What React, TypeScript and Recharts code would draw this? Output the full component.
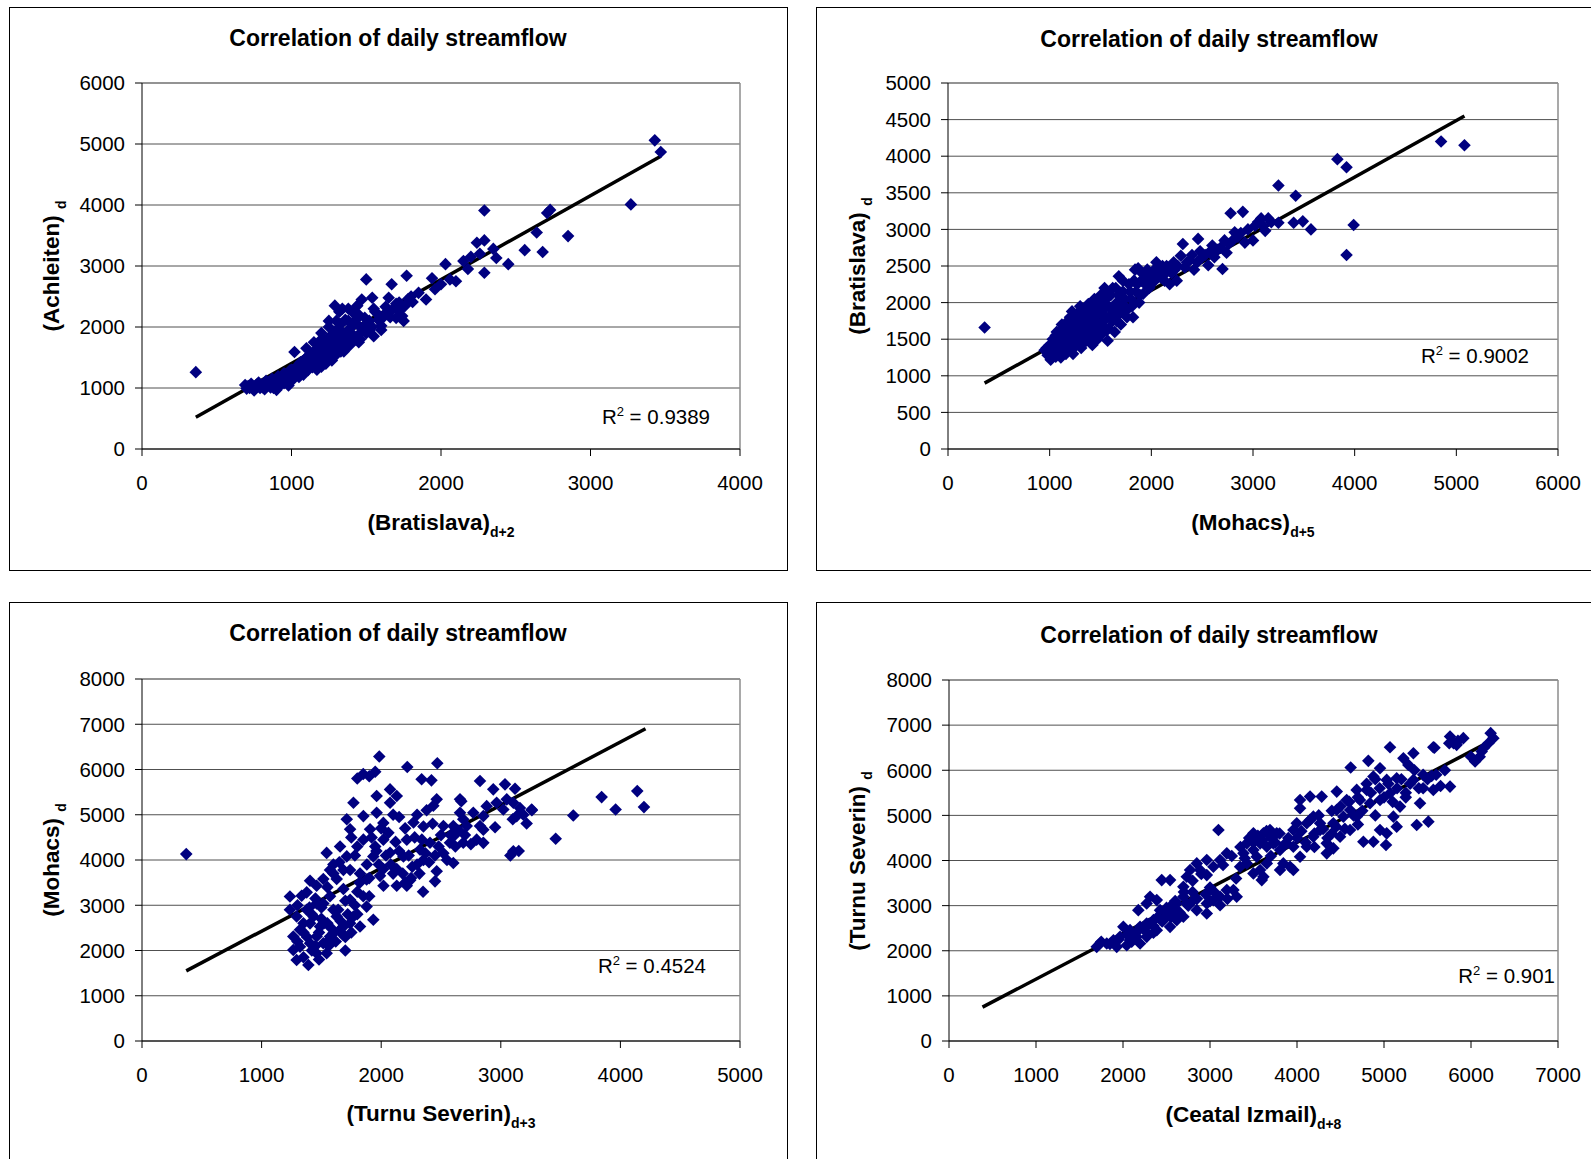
import React from 'react';
import { ScatterChart, Scatter, XAxis, YAxis, CartesianGrid, ReferenceLine } from 'recharts';

type Pair = [number, number];

const FONT = '"Liberation Sans", Arial, Helvetica, sans-serif';
const TITLE = 'Correlation of daily streamflow';

// ---------- Panel 1: Bratislava(d+2) vs Achleiten(d) ----------
const p1XTicks = [0, 1000, 2000, 3000, 4000];
const p1YTicks = [0, 1000, 2000, 3000, 4000, 5000, 6000];
const p1Trend: Pair[] = [[360, 520], [3470, 4800]];
const p1R2 = '0.9389';
const p1Points: Pair[] = [
  [360, 1260],
  [690, 1050], [700, 990], [710, 1030], [730, 1070], [740, 1000], [750, 960], [760, 1040], [780, 1090], [790, 1000],
  [800, 1050], [820, 980], [830, 1120], [840, 1060], [860, 1010], [870, 1150], [880, 1090], [890, 1030], [900, 970],
  [910, 1190], [920, 1120], [930, 1060], [950, 1240], [960, 1170], [970, 1100], [980, 1040], [990, 1290], [1000, 1210],
  [1010, 1140], [1020, 1590], [1030, 1340], [1040, 1260], [1050, 1180], [1060, 1420], [1070, 1300], [1080, 1220],
  [1090, 1470], [1100, 1380], [1110, 1290], [1120, 1530], [1130, 1430], [1140, 1340], [1150, 1590], [1160, 1490],
  [1170, 1390], [1180, 1660], [1190, 1550], [1200, 1440], [1210, 1720], [1220, 1600], [1230, 1500], [1240, 1800],
  [1250, 1670], [1260, 1560], [1270, 1870], [1280, 1730], [1290, 1610], [1300, 1950], [1310, 1800], [1320, 1670],
  [1330, 2050], [1340, 1860], [1350, 1720], [1360, 2120], [1370, 1920], [1380, 1780], [1290, 2350], [1400, 2000],
  [1410, 2240], [1420, 1850], [1430, 2120], [1450, 2020], [1460, 1900], [1470, 2450], [1490, 2150], [1500, 2780],
  [1510, 2060], [1520, 1940], [1540, 2480], [1560, 2250], [1580, 2120], [1600, 2020], [1630, 2330], [1650, 2480],
  [1660, 2160], [1670, 2700], [1700, 2380], [1720, 2260], [1740, 2180], [1770, 2840], [1780, 2460], [1810, 2410],
  [1250, 2100], [1320, 2250], [1380, 2300], [1440, 2350], [1250, 1480], [1350, 1600], [1450, 1750], [1550, 1850],
  [1600, 1950], [1700, 2150], [1750, 2100], [1200, 1900], [1150, 1750], [1100, 1650],
  [720, 1000], [770, 1060], [810, 1010], [850, 1100], [880, 1000], [900, 1120], [940, 1150], [950, 1080],
  [1000, 1300], [1010, 1250], [1050, 1350], [1060, 1220], [1090, 1300], [1100, 1500], [1120, 1350], [1140, 1450],
  [1160, 1620], [1170, 1300], [1190, 1700], [1200, 1350], [1220, 1760], [1230, 1400], [1240, 1550], [1260, 1850],
  [1270, 1450], [1290, 1750], [1300, 1550], [1320, 1950], [1330, 1600], [1350, 1900], [1360, 1650], [1380, 2100],
  [1390, 1700], [1400, 1850], [1420, 2050], [1430, 1800], [1450, 2200], [1460, 1800], [1480, 2000], [1500, 1900],
  [1520, 2100], [1540, 2000], [1550, 2300], [1580, 2200], [1610, 2150], [1640, 2250], [1680, 2300], [1720, 2400],
  [1760, 2350], [1800, 2500], [1300, 2100], [1340, 2300], [1250, 2000], [1200, 1800],
  [1850, 2560], [1900, 2450], [1940, 2800], [1960, 2620], [2000, 2700], [2030, 3030], [2060, 2780], [2100, 2750],
  [2150, 3080], [2180, 2950], [2200, 3150], [2240, 3380], [2260, 3200], [2290, 3420], [2290, 2890], [2290, 3910],
  [2350, 3280], [2370, 3130], [2450, 3030], [2560, 3260], [2640, 3550], [2680, 3230], [2710, 3870], [2730, 3920],
  [2850, 3490], [3270, 4010], [3430, 5060], [3470, 4870],
];

// ---------- Panel 2: Mohacs(d+5) vs Bratislava(d) ----------
const p2XTicks = [0, 1000, 2000, 3000, 4000, 5000, 6000];
const p2YTicks = [0, 500, 1000, 1500, 2000, 2500, 3000, 3500, 4000, 4500, 5000];
const p2Trend: Pair[] = [[360, 900], [5080, 4550]];
const p2R2 = '0.9002';
const p2Points: Pair[] = [
  [360, 1660],
  [950, 1350], [980, 1280], [1000, 1420], [1010, 1220], [1030, 1500], [1040, 1330], [1060, 1260], [1070, 1600],
  [1080, 1450], [1100, 1350], [1110, 1250], [1120, 1700], [1130, 1550], [1150, 1420], [1160, 1300], [1180, 1750],
  [1190, 1620], [1200, 1500], [1210, 1380], [1220, 1880], [1230, 1300], [1240, 1700], [1250, 1580], [1260, 1460],
  [1280, 1800], [1290, 1650], [1300, 1520], [1310, 1380], [1330, 1900], [1340, 1750], [1350, 1600], [1360, 1480],
  [1380, 1980], [1390, 1820], [1400, 1680], [1410, 1550], [1420, 1420], [1440, 1900], [1450, 1760], [1460, 1620],
  [1470, 1500], [1490, 2020], [1500, 1850], [1510, 1700], [1520, 1580], [1540, 2200], [1550, 1950], [1560, 1800],
  [1570, 1480], [1580, 1650], [1600, 2100], [1610, 1900], [1620, 1750], [1640, 1600], [1660, 2000], [1680, 2360],
  [1690, 1850], [1700, 1700], [1720, 2150], [1740, 1950], [1760, 1800], [1780, 2250], [1800, 2050], [1820, 1800],
  [1840, 2450], [1850, 2150], [1870, 2470], [1880, 2000], [1900, 2300], [1920, 2120], [1950, 2350], [1980, 2200],
  [1050, 1400], [1150, 1500], [1250, 1650], [1350, 1800], [1450, 1950], [1550, 2050], [1650, 2200], [1000, 1300],
  [1100, 1450], [1200, 1600], [1300, 1700], [1400, 1850], [1500, 1980], [1600, 1820], [1700, 1950],
  [970, 1380], [990, 1340], [1020, 1300], [1040, 1450], [1060, 1550], [1080, 1320], [1090, 1500], [1110, 1620],
  [1130, 1400], [1140, 1680], [1170, 1560], [1180, 1400], [1200, 1800], [1220, 1550], [1230, 1720], [1250, 1400],
  [1270, 1850], [1280, 1550], [1300, 1950], [1320, 1650], [1330, 1450], [1340, 1880], [1370, 1700], [1380, 1550],
  [1400, 1950], [1410, 1780], [1430, 1650], [1440, 2050], [1460, 1850], [1480, 1700], [1500, 2100], [1520, 1900],
  [1530, 1750], [1550, 2150], [1560, 1620], [1580, 1950], [1600, 1800], [1620, 2200], [1640, 1950], [1660, 1750],
  [1680, 2100], [1700, 1900], [1720, 2300], [1740, 2050], [1760, 1900], [1790, 2150], [1810, 1950], [1830, 2300],
  [1860, 2250], [1890, 2100], [1910, 2400], [1940, 2250], [1960, 2450], [1990, 2300], [2030, 2450], [2060, 2380],
  [2090, 2350], [2110, 2500], [2140, 2400], [2170, 2450], [2230, 2450], [2260, 2500], [2350, 2550], [2400, 2650],
  [2450, 2550], [2530, 2650], [2580, 2700], [2620, 2620], [2680, 2750], [2760, 2800], [2800, 2850], [2880, 2950],
  [2950, 3000], [3020, 3050], [3100, 3050], [3180, 3100],
  [2000, 2400], [2020, 2280], [2050, 2550], [2070, 2350], [2100, 2450], [2130, 2300], [2150, 2500], [2180, 2250],
  [2200, 2400], [2220, 2550], [2250, 2300], [2290, 2640], [2310, 2800], [2330, 2480], [2380, 2580], [2420, 2450],
  [2460, 2870], [2480, 2700], [2500, 2620], [2560, 2510], [2600, 2780], [2650, 2720], [2700, 2460], [2720, 2850],
  [2740, 2680], [2780, 3220], [2820, 2960], [2850, 2900], [2900, 3240], [2920, 2820], [3000, 2850], [3050, 3100],
  [3080, 3150], [3120, 2980], [3150, 3150], [3250, 3090], [3250, 3600], [3420, 3460], [3400, 3090], [3490, 3110],
  [3570, 3000], [3830, 3960], [3920, 3850], [3920, 2650], [3990, 3060], [4850, 4200], [5080, 4150],
];

// ---------- Panel 3: Turnu Severin(d+3) vs Mohacs(d) ----------
const p3XTicks = [0, 1000, 2000, 3000, 4000, 5000];
const p3YTicks = [0, 1000, 2000, 3000, 4000, 5000, 6000, 7000, 8000];
const p3Trend: Pair[] = [[370, 1550], [4210, 6900]];
const p3R2 = '0.4524';
const p3Points: Pair[] = [
  [370, 4130],
  [1984, 6286], [2469, 6137], [2218, 6055], [1800, 5800], [1850, 5900], [1900, 5850], [1950, 5950], [2338, 5783],
  [2420, 5760], [2826, 5745], [2937, 5561], [3035, 5672], [3119, 5576], [3843, 5390], [4141, 5523], [4197, 5169],
  [3960, 5117], [3606, 4984], [3459, 4468], [3258, 5117], [3216, 4807], [2952, 4725], [2854, 4379], [3105, 4193],
  [3080, 4100], [2603, 3935], [2450, 3528], [2450, 4100], [2659, 5044], [2659, 5340], [2464, 5340], [2436, 5200],
  [2686, 4900], [2770, 5044], [2603, 4750], [2380, 5100], [2353, 4740], [2270, 4830], [2214, 4450], [2325, 4230],
  [2186, 4080], [2130, 3800], [2242, 3550], [2214, 3430], [2019, 3430], [1990, 3650], [1934, 2678], [1878, 2970],
  [1823, 3700], [1740, 3780], [1712, 4080], [1934, 4080], [2018, 4450], [1851, 4450], [1740, 4680], [1712, 4900],
  [1851, 4970], [1962, 5044], [1768, 5265], [2074, 5265], [1962, 5414], [2074, 5560], [2130, 5414], [1907, 4680],
  [2018, 4820], [1544, 4157], [1656, 4300], [1572, 3780], [1460, 3430], [1516, 3580], [1628, 3580], [1684, 3360],
  [1405, 3540], [1377, 3285], [1335, 3210], [1237, 3195], [1237, 2900], [1293, 2750], [1377, 2900], [1460, 3040],
  [1572, 3200], [1600, 2900], [1740, 3120], [1768, 2750], [1823, 2530], [1684, 2530], [1600, 2380], [1488, 2530],
  [1405, 2600], [1321, 2460], [1265, 2310], [1265, 2010], [1321, 2085], [1293, 1790], [1391, 1681], [1460, 1940],
  [1516, 2160], [1572, 2310], [1656, 2460], [1740, 2600], [1460, 2310], [1405, 2160], [1544, 1940], [1433, 2750],
  [1628, 2750], [1516, 3040], [1684, 3780], [1878, 3570], [2130, 3430], [2018, 3800], [2074, 4160], [2353, 4000],
  [2464, 3750], [2408, 4380], [2575, 4380], [2520, 4750], [2715, 4750], [2854, 4970], [3021, 5115], [3105, 5265],
  [3133, 4970], [3050, 5340], [2965, 5265], [2882, 5190], [2826, 4750], [2798, 4450], [2686, 4380], [2603, 4520],
  [2854, 4670], [3189, 5000], [3260, 5100], [3160, 5150], [3100, 4900], [3150, 4200], [2670, 5300], [1350, 2400],
  [1420, 2000], [1500, 2700], [1550, 2200], [1700, 2300], [1800, 3300], [1900, 3200], [2100, 3700], [2300, 3900],
  [2200, 4700], [2150, 4950], [1800, 4300], [1600, 3900], [1950, 4300], [2250, 3600], [2350, 3300], [2500, 4550],
  [1300, 2200], [1350, 2600], [1380, 2300], [1420, 2800], [1450, 2100], [1480, 2400], [1500, 2950], [1520, 2600],
  [1560, 2100], [1580, 2500], [1620, 2200], [1640, 2900], [1660, 2650], [1680, 2350], [1700, 3100], [1720, 2800],
  [1750, 2400], [1780, 3000], [1800, 2800], [1820, 3500], [1850, 3200], [1880, 3900], [1900, 3600], [1920, 4500],
  [1960, 4200], [1980, 3900], [2000, 4700], [2040, 4100], [2060, 4600], [2080, 3900], [2100, 5000], [2120, 4400],
  [2150, 4200], [2180, 3700], [2200, 3500], [2230, 4100], [2260, 3850], [2280, 4500], [2300, 5000], [2320, 3700],
  [2340, 4450], [2370, 4150], [2400, 3950], [2430, 4800], [2480, 4300], [2520, 4150], [2550, 4000], [2580, 4550],
  [2620, 4300], [2650, 4650], [2700, 4550], [2750, 4350], [1750, 4500], [1780, 4100], [1650, 3950], [1600, 3700],
  [1550, 3400], [1450, 3150], [1400, 2950], [1300, 3000], [1350, 1850], [1480, 1800], [1550, 2600], [1700, 2000],
];

// ---------- Panel 4: Ceatal Izmail(d+8) vs Turnu Severin(d) ----------
const p4XTicks = [0, 1000, 2000, 3000, 4000, 5000, 6000, 7000];
const p4YTicks = [0, 1000, 2000, 3000, 4000, 5000, 6000, 7000, 8000];
const p4Trend: Pair[] = [[385, 750], [6230, 6650]];
const p4R2 = '0.901';
const p4Points: Pair[] = [
  [6226, 6822], [6257, 6711], [5759, 6748], [5912, 6711], [5835, 6563], [5567, 6511], [5069, 6511], [6123, 6415],
  [6047, 6193], [5338, 6378], [5223, 6267], [5280, 6119], [4820, 6208], [4617, 6060], [4954, 6045], [4878, 5860],
  [5031, 5786], [5146, 5823], [5338, 5786], [5548, 5875], [5759, 5638], [5567, 5564], [5414, 5268], [5510, 4861],
  [5376, 4787], [5184, 5194], [5108, 4972], [5146, 4750], [5031, 4602], [4954, 4676], [5023, 4343], [4878, 4417],
  [4763, 4417], [4801, 5564], [4686, 5564], [4571, 5342], [4724, 5342], [4839, 5268], [4954, 5342], [5069, 5490],
  [4457, 5527], [4284, 5416], [4150, 5416], [4035, 5342], [4035, 5157], [4188, 4972], [4265, 4824], [4418, 4824],
  [4533, 4972], [4457, 5120], [4610, 5120], [4686, 4972], [4610, 4676], [4495, 4528], [4342, 4380], [4342, 4158],
  [4418, 4269], [4265, 4676], [4112, 4824], [3997, 4824], [3958, 4676], [4188, 4528], [4112, 4306], [4035, 4084],
  [3920, 3862], [3958, 3788], [3843, 3936], [3805, 4232], [3767, 4602], [3690, 4676], [3614, 4602], [3499, 4602],
  [3423, 4380], [3576, 4380], [3653, 4306], [3729, 4380], [3882, 4380], [3958, 4306], [3499, 4232], [3384, 4158],
  [3537, 4084], [3423, 3936], [3346, 3862], [3576, 3788], [3653, 3936], [3499, 3714], [3614, 3640], [3595, 3566],
  [3805, 3788], [3097, 4676], [3193, 4158], [3116, 4010], [2963, 4010], [2848, 3936], [3039, 3862], [2771, 3788],
  [2886, 3788], [2963, 3677], [2733, 3640], [2541, 3566], [2445, 3566], [2694, 3418], [3307, 3196], [3193, 3344],
  [3269, 3344], [3116, 3196], [3039, 3122], [2963, 3048], [3116, 3011], [2963, 2826], [2848, 2900], [2810, 3122],
  [2694, 3196], [2617, 3048], [2541, 2974], [2503, 2826], [2388, 3122], [2311, 3196], [2272, 3048], [2176, 2900],
  [2426, 2900], [2464, 2678], [2350, 2678], [2272, 2604], [2196, 2530], [2081, 2456], [2004, 2530], [1966, 2308],
  [1890, 2234], [1813, 2160], [1736, 2160], [1698, 2086], [2081, 2234], [2157, 2308], [2272, 2308], [2388, 2456],
  [2541, 2530], [2617, 2678], [2694, 2752], [2196, 2160], [2043, 2123], [1928, 2086], [2733, 3048], [5580, 6500],
  [5800, 6600], [6100, 6300], [5500, 5800], [5650, 5650], [5450, 5600], [5250, 5500], [4900, 5000], [4700, 4800],
  [4400, 4600], [4200, 4300], [3700, 4100], [3300, 3600], [3000, 3400], [2800, 3300], [2600, 2900], [2350, 2400],
  [1750, 2200], [1850, 2150], [1950, 2250], [2050, 2350], [2100, 2200], [2150, 2400], [2250, 2450], [2300, 2600],
  [2350, 2550], [2400, 2750], [2450, 2650], [2500, 2950], [2550, 2750], [2600, 3100], [2650, 2850], [2700, 3300],
  [2750, 3000], [2800, 3550], [2850, 3150], [2900, 3700], [2950, 3250], [3000, 3100], [3050, 3300], [3150, 3900],
  [3200, 3150], [3250, 4100], [3350, 4300], [3400, 4050], [3450, 4500], [3500, 4400], [3550, 4550], [3600, 4450],
  [3650, 4650], [3700, 4500], [3750, 4400], [3800, 4600], [3850, 4350], [3900, 4500], [4000, 4500], [4050, 4650],
  [4100, 4400], [4150, 4900], [4200, 4600], [4250, 5000], [4300, 4700], [4350, 4500], [4400, 5100], [4450, 4750],
  [4500, 5200], [4550, 4700], [4600, 5300], [4650, 5000], [4700, 5400], [4750, 5100], [4800, 5700], [4850, 5500],
  [4900, 5800], [4950, 5600], [5000, 5400], [5050, 5700], [5100, 5300], [5150, 5600], [5200, 5800], [5250, 5400],
  [5300, 5700], [5350, 6000], [5400, 5600], [5450, 5900], [5600, 5900], [5700, 6000], [5750, 6600], [5850, 6650],
  [6000, 6300], [6200, 6600], [6150, 6500],
];

// ---------- layout ----------
interface PanelSpec {
  left: number; top: number; width: number; height: number;
  plotLeft: number; plotTop: number; plotRight: number; plotBottom: number;
  xMax: number; yMax: number; xTicks: number[]; yTicks: number[];
  points: Pair[]; trend: Pair[]; r2: string;
  titleX: number; titleY: number;
  xLabel: string; xSub: string; xLabelY: number;
  yLabel: string; ySub: string; yLabelX: number;
  r2Right: number; r2Y: number;
}

function Diamond(props: any) {
  const { cx, cy } = props;
  if (cx == null || cy == null) return null;
  const r = 6.3;
  return (
    <polygon
      points={`${cx},${cy - r} ${cx + r},${cy} ${cx},${cy + r} ${cx - r},${cy}`}
      fill="#000080"
    />
  );
}

const tickStyle = { fill: '#000', fontSize: 20.5, fontFamily: FONT };

function Panel({ s }: { s: PanelSpec }) {
  const data = s.points.map(([x, y]) => ({ x, y }));
  const yAxisWidth = s.plotLeft - s.left;
  const xAxisHeight = 60;
  const margin = {
    top: s.plotTop - s.top,
    right: s.left + s.width - s.plotRight,
    bottom: s.top + s.height - s.plotBottom - xAxisHeight,
    left: 0,
  };
  const plotCx = (s.plotLeft + s.plotRight) / 2;
  const plotCy = (s.plotTop + s.plotBottom) / 2;
  const center: React.CSSProperties = {
    position: 'absolute', whiteSpace: 'nowrap', lineHeight: 1, fontFamily: FONT, color: '#000',
  };
  return (
    <>
      <div
        style={{
          position: 'absolute', left: s.left, top: s.top, width: s.width, height: s.height,
          border: '1px solid #000', boxSizing: 'border-box', background: '#fff',
        }}
      />
      <div style={{ position: 'absolute', left: s.left, top: s.top }}>
        <ScatterChart width={s.width} height={s.height} margin={margin} style={{ fontFamily: FONT }}>
          <CartesianGrid vertical={false} stroke="#505050" strokeWidth={1} />
          <XAxis
            type="number" dataKey="x" domain={[0, s.xMax]} ticks={s.xTicks} height={xAxisHeight}
            axisLine={{ stroke: '#000' }} tickLine={{ stroke: '#000' }} tickSize={7} tickMargin={19}
            tick={tickStyle} interval={0} allowDataOverflow
          />
          <YAxis
            type="number" dataKey="y" domain={[0, s.yMax]} ticks={s.yTicks} width={yAxisWidth}
            axisLine={{ stroke: '#000' }} tickLine={{ stroke: '#000' }} tickSize={7} tickMargin={10}
            tick={tickStyle} interval={0} allowDataOverflow
          />
          <ReferenceLine x={s.xMax} stroke="#8c8c8c" strokeWidth={1.5} />
          <ReferenceLine y={s.yMax} stroke="#8c8c8c" strokeWidth={1.5} />
          <Scatter data={data} shape={Diamond} isAnimationActive={false} />
          <ReferenceLine
            segment={[{ x: s.trend[0][0], y: s.trend[0][1] }, { x: s.trend[1][0], y: s.trend[1][1] }]}
            stroke="#000" strokeWidth={3.5}
          />
        </ScatterChart>
      </div>
      <div style={{ ...center, left: s.titleX, top: s.titleY, transform: 'translate(-50%,-50%)', fontWeight: 'bold', fontSize: 23 }}>
        {TITLE}
      </div>
      <div style={{ ...center, left: plotCx, top: s.xLabelY, transform: 'translate(-50%,-50%)', fontWeight: 'bold', fontSize: 22.5 }}>
        {s.xLabel}
        <span style={{ fontSize: 14, position: 'relative', top: 7 }}>{s.xSub}</span>
      </div>
      <div
        style={{
          ...center, left: s.yLabelX, top: plotCy, transform: 'translate(-50%,-50%) rotate(-90deg)',
          fontWeight: 'bold', fontSize: 22.5,
        }}
      >
        {s.yLabel}{' '}
        <span style={{ fontSize: 14, position: 'relative', top: 7 }}>{s.ySub}</span>
      </div>
      <div
        style={{
          ...center, right: 1591 - s.r2Right, top: s.r2Y, transform: 'translateY(-50%)', fontSize: 20.5,
        }}
      >
        R<span style={{ fontSize: 13, position: 'relative', top: -8 }}>2</span> = {s.r2}
      </div>
    </>
  );
}

const panels: PanelSpec[] = [
  {
    left: 9, top: 7, width: 779, height: 564,
    plotLeft: 142, plotTop: 83, plotRight: 740, plotBottom: 449,
    xMax: 4000, yMax: 6000, xTicks: p1XTicks, yTicks: p1YTicks,
    points: p1Points, trend: p1Trend, r2: p1R2,
    titleX: 398, titleY: 38,
    xLabel: '(Bratislava)', xSub: 'd+2', xLabelY: 523,
    yLabel: '(Achleiten)', ySub: 'd', yLabelX: 52,
    r2Right: 710, r2Y: 417,
  },
  {
    left: 816, top: 7, width: 790, height: 564,
    plotLeft: 948, plotTop: 83, plotRight: 1558, plotBottom: 449,
    xMax: 6000, yMax: 5000, xTicks: p2XTicks, yTicks: p2YTicks,
    points: p2Points, trend: p2Trend, r2: p2R2,
    titleX: 1209, titleY: 39,
    xLabel: '(Mohacs)', xSub: 'd+5', xLabelY: 523,
    yLabel: '(Bratislava)', ySub: 'd', yLabelX: 858,
    r2Right: 1529, r2Y: 356,
  },
  {
    left: 9, top: 602, width: 779, height: 580,
    plotLeft: 142, plotTop: 679, plotRight: 740, plotBottom: 1041,
    xMax: 5000, yMax: 8000, xTicks: p3XTicks, yTicks: p3YTicks,
    points: p3Points, trend: p3Trend, r2: p3R2,
    titleX: 398, titleY: 633,
    xLabel: '(Turnu Severin)', xSub: 'd+3', xLabelY: 1114,
    yLabel: '(Mohacs)', ySub: 'd', yLabelX: 52,
    r2Right: 706, r2Y: 966,
  },
  {
    left: 816, top: 602, width: 790, height: 580,
    plotLeft: 949, plotTop: 680, plotRight: 1558, plotBottom: 1041,
    xMax: 7000, yMax: 8000, xTicks: p4XTicks, yTicks: p4YTicks,
    points: p4Points, trend: p4Trend, r2: p4R2,
    titleX: 1209, titleY: 635,
    xLabel: '(Ceatal Izmail)', xSub: 'd+8', xLabelY: 1115,
    yLabel: '(Turnu Severin)', ySub: 'd', yLabelX: 858,
    r2Right: 1555, r2Y: 976,
  },
];

export default function App() {
  return (
    <div
      style={{
        position: 'absolute', left: 0, top: 0, width: 1591, height: 1159, overflow: 'hidden',
        background: '#fff', fontFamily: FONT,
      }}
    >
      {panels.map((s, i) => (
        <Panel key={i} s={s} />
      ))}
    </div>
  );
}
